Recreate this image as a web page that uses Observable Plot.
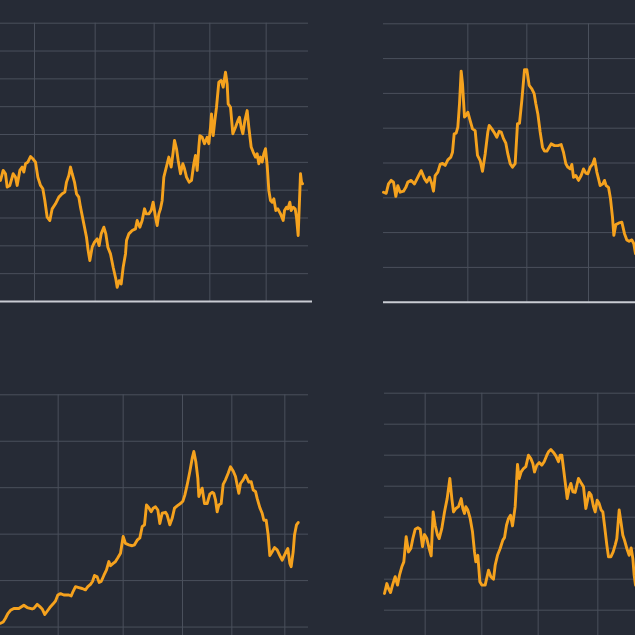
<!DOCTYPE html>
<html>
<head>
<meta charset="utf-8">
<script src="https://cdn.jsdelivr.net/npm/d3@7"></script>
<script src="https://cdn.jsdelivr.net/npm/@observablehq/plot@0.6"></script>
<style>
  html, body { margin: 0; padding: 0; background: #262b36; width: 635px; height: 635px; overflow: hidden; }
  .panel { position: absolute; overflow: visible; }
  .panel svg { overflow: visible; background: transparent; max-width: none !important; display: block; }
</style>
</head>
<body>
<div id="p1" class="panel" style="left:0px;top:0px;width:320px;height:320px"></div>
<div id="p2" class="panel" style="left:318px;top:0px;width:340px;height:320px"></div>
<div id="p3" class="panel" style="left:0px;top:318px;width:320px;height:360px"></div>
<div id="p4" class="panel" style="left:318px;top:318px;width:340px;height:340px"></div>
<script>
// Panel 1 (top left)
const p1T = [0,8,15,20,28,38,45,50,58,65,70,75,82,90,97,105,112,120,127,133,140,148,155,165,175,185,193,198,205,210,215,222,228,235,240,250,258,263,268,275,282,290,296,302,310,316,322,330,338,346,350,356,362,368,375,378,385,395,405,410,418,425,432,437,445,452,458,465,470,475,480,485,490,500,505,512,518,522,528,533,540,547,552,558,566,573,580,585,590,595,598,605,612,620,625,630,633,638,643,648,655,662,668,675,680,683,690,697,705,712,717,722,727,733,740,745,752,758,765,770,775,780,785,790,795,800,805,810,815,820,826,832,840,848,852,858,862,868,872,878,884,888,893,897,900,903,906];
const p1V = [4.35,4.71,4.59,4.11,4.17,4.59,4.47,4.17,4.71,4.83,4.65,4.95,5.01,5.21,5.13,5.01,4.47,4.17,4.05,3.63,3.03,2.91,3.33,3.51,3.75,3.87,3.93,4.29,4.53,4.83,4.59,4.29,3.87,3.75,3.39,2.79,2.31,1.83,1.47,1.95,2.13,2.25,2.01,2.43,2.67,2.43,1.95,1.71,1.23,0.81,0.51,0.75,0.63,1.23,1.71,2.19,2.43,2.55,2.61,2.91,2.67,2.91,3.33,3.15,3.15,3.27,3.57,3.03,2.73,3.15,3.33,3.63,4.47,4.95,5.19,4.83,5.37,5.79,5.49,5.07,4.59,4.95,4.77,4.47,4.29,4.35,4.95,5.25,4.71,5.55,5.96,5.90,5.67,5.90,5.67,6.26,6.74,5.96,6.50,6.98,7.88,7.94,7.70,8.24,7.82,7.10,6.98,6.03,6.26,6.50,6.62,6.26,6.03,6.50,6.86,6.26,5.55,5.37,5.19,5.31,4.95,5.19,5.01,5.31,5.49,4.89,3.99,3.63,3.57,3.69,3.27,3.33,3.15,2.91,3.27,3.39,3.33,3.57,3.27,3.39,3.33,3.03,2.37,3.63,4.59,4.29,4.23];
const p1XTicks = [102, 284, 461, 628, 797];
const p1YTicks = [1,2,3,4,5,6,7,8,9,10];

// Panel 2 (top right)
const p2T = [195,203,210,218,225,232,238,245,255,262,268,278,288,298,308,318,325,333,340,345,350,358,365,372,380,388,397,402,407,413,418,423,428,432,438,442,448,455,462,470,477,485,492,500,508,512,520,528,535,542,548,555,562,568,575,582,590,597,603,610,618,625,632,640,647,652,658,665,672,678,685,692,698,708,718,728,735,742,748,755,760,765,772,780,788,795,802,808,815,822,828,835,840,845,853,858,863,870,876,882,886,892,900,910,918,925,932,940,946,951,975];
const p2V = [3.16,3.13,3.40,3.50,3.45,3.04,3.35,3.16,3.19,3.30,3.45,3.50,3.40,3.59,3.78,3.55,3.45,3.59,3.40,3.19,3.64,3.74,3.96,3.99,3.93,4.09,4.17,4.31,4.84,4.86,5.03,5.70,6.64,6.28,5.32,5.36,5.46,5.22,4.98,4.93,4.22,4.07,3.76,4.26,4.89,5.08,4.98,4.86,4.74,4.91,4.89,4.70,4.57,4.26,3.98,3.88,3.98,5.13,5.14,5.80,6.68,6.68,6.23,6.13,5.99,5.70,5.41,4.89,4.45,4.34,4.34,4.45,4.55,4.50,4.50,4.53,4.31,3.98,3.88,3.83,3.96,3.59,3.64,3.50,3.64,3.83,3.71,3.69,3.88,3.96,4.12,3.74,3.55,3.35,3.40,3.50,3.35,3.30,2.97,2.44,1.92,2.23,2.27,2.30,1.97,1.79,1.75,1.79,1.68,1.39,1.25];
const p2XTicks = [448, 625, 810];
const p2YTicks = [1,2,3,4,5,6,7,8];

// Panel 3 (bottom left)
const p3T = [0,8,15,22,30,40,55,70,80,95,100,110,118,125,133,140,148,158,165,172,180,190,205,212,218,225,235,245,255,262,270,276,282,290,296,302,310,318,325,330,338,345,352,360,368,375,385,395,402,410,418,425,432,438,445,452,458,465,472,478,485,495,500,508,515,522,530,540,547,553,560,568,575,580,586,592,595,600,605,612,620,628,635,640,645,650,655,662,668,675,683,690,698,705,710,715,720,728,735,740,745,752,758,765,770,778,785,790,797,803,808,815,822,830,838,845,852,858,862,868,872,878,882,888,893];
const p3V = [1.08,1.11,1.19,1.29,1.36,1.40,1.40,1.47,1.42,1.39,1.40,1.49,1.44,1.39,1.27,1.34,1.42,1.50,1.56,1.69,1.72,1.69,1.69,1.67,1.77,1.87,1.85,1.83,1.80,1.87,1.92,1.98,2.11,2.08,1.96,1.98,2.11,2.23,2.41,2.32,2.37,2.41,2.49,2.59,2.95,2.80,2.77,2.75,2.77,2.87,2.92,3.16,3.20,3.63,3.57,3.48,3.56,3.59,3.52,3.23,3.45,3.47,3.41,3.20,3.34,3.56,3.61,3.66,3.71,3.84,4.06,4.35,4.63,4.78,4.56,4.20,3.81,3.92,3.99,3.66,3.66,3.86,3.90,3.88,3.74,3.48,3.63,3.66,4.07,4.17,4.31,4.45,4.36,4.24,4.06,3.88,4.09,4.17,4.27,4.20,4.12,4.13,3.95,3.92,3.77,3.57,3.45,3.30,3.30,2.98,2.54,2.62,2.71,2.66,2.54,2.44,2.55,2.64,2.69,2.37,2.30,2.62,2.98,3.20,3.25];
const p3XTicks = [173, 368, 546, 694, 853];
const p3YTicks = [1,2,3,4,5,6];

// Panel 4 (bottom right)
const p4T = [198,205,210,216,222,230,237,243,250,256,263,270,277,283,290,298,305,312,318,325,332,338,344,350,357,362,370,378,386,394,400,405,412,420,428,433,438,442,448,455,462,468,472,478,484,490,500,510,517,525,530,537,545,553,558,564,570,576,582,590,597,602,608,615,622,630,637,643,648,655,662,670,677,685,690,697,705,712,720,725,730,735,740,746,752,757,763,770,775,780,787,795,802,808,812,818,825,830,836,842,848,853,858,865,870,877,884,890,895,902,908,913,918,925,932,938,943,947,951,975];
const p4V = [1.54,1.86,1.70,1.57,1.81,2.08,1.81,2.13,2.40,2.56,3.37,2.88,2.99,3.31,3.61,3.66,3.61,3.05,3.44,3.31,2.99,2.75,4.17,3.74,3.42,3.31,3.64,4.17,4.60,5.25,4.60,4.17,4.28,4.34,4.60,4.28,4.12,4.34,4.23,3.96,3.53,2.88,2.56,2.77,1.92,1.81,1.81,2.29,2.08,2.00,2.45,2.77,2.99,3.26,3.34,3.74,3.96,4.06,3.72,4.34,5.70,5.25,5.46,5.57,5.63,6.00,5.89,5.73,5.46,5.68,5.76,5.68,5.79,6.00,6.11,6.18,6.09,5.98,5.79,6.00,6.00,5.57,5.14,4.60,4.93,5.09,4.82,4.80,5.03,5.25,5.12,4.98,4.28,4.60,4.80,4.71,4.34,4.17,4.55,4.44,4.23,4.17,3.74,3.10,2.72,2.72,2.88,3.10,3.31,4.23,3.80,3.42,3.26,2.99,2.77,3.01,2.67,2.13,1.81,1.40];
const p4XTicks = [320, 490, 659, 838];
const p4YTicks = [1,2,3,4,5,6,7,8];

const GRID = "#4a505c";
const BASE = "#c9ccd3";
const LINE = "#f5a21e";

function panel(el, T, V, xTicks, yTicks, yMax, o) {
  const data = T.map((t, i) => ({t, v: V[i]}));
  const chart = Plot.plot({
    width: o.width,
    height: o.height,
    marginTop: o.marginTop,
    marginBottom: o.marginBottom,
    marginLeft: o.marginLeft,
    marginRight: o.marginRight,
    style: {background: "transparent", overflow: "visible", maxWidth: "none"},
    x: {domain: [0, o.width * 3], range: [0, o.width], axis: null},
    y: {domain: [0, yMax], axis: null},
    marks: [
      Plot.gridY(yTicks, {stroke: GRID, strokeOpacity: 1, strokeWidth: 1}),
      Plot.gridX(xTicks, {stroke: GRID, strokeOpacity: 1, strokeWidth: 1}),
      Plot.ruleY([0], {stroke: BASE, strokeWidth: 2, insetRight: o.baseExtend || 0}),
      Plot.line(data, {x: "t", y: "v", stroke: LINE, strokeWidth: 2.9, strokeLinejoin: "round", strokeLinecap: "round"})
    ]
  });
  chart.style.maxWidth = "none";
  chart.style.width = o.width + "px";
  chart.style.height = o.height + "px";
  document.getElementById(el).appendChild(chart);
}

panel("p1", p1T, p1V, p1XTicks, p1YTicks, 10,
  {width: 320, height: 320, marginTop: 22.7, marginBottom: 19, marginLeft: 0, marginRight: 12, baseExtend: -4});
panel("p2", p2T, p2V, p2XTicks, p2YTicks, 8,
  {width: 340, height: 320, marginTop: 23.3, marginBottom: 18.3, marginLeft: 65, marginRight: 0});
panel("p3", p3T, p3V, p3XTicks, p3YTicks, 6,
  {width: 320, height: 360, marginTop: 76.3, marginBottom: 5, marginLeft: 0, marginRight: 12});
panel("p4", p4T, p4V, p4XTicks, p4YTicks, 8,
  {width: 340, height: 340, marginTop: 74.7, marginBottom: 17.3, marginLeft: 66, marginRight: 0});
</script>
</body>
</html>
